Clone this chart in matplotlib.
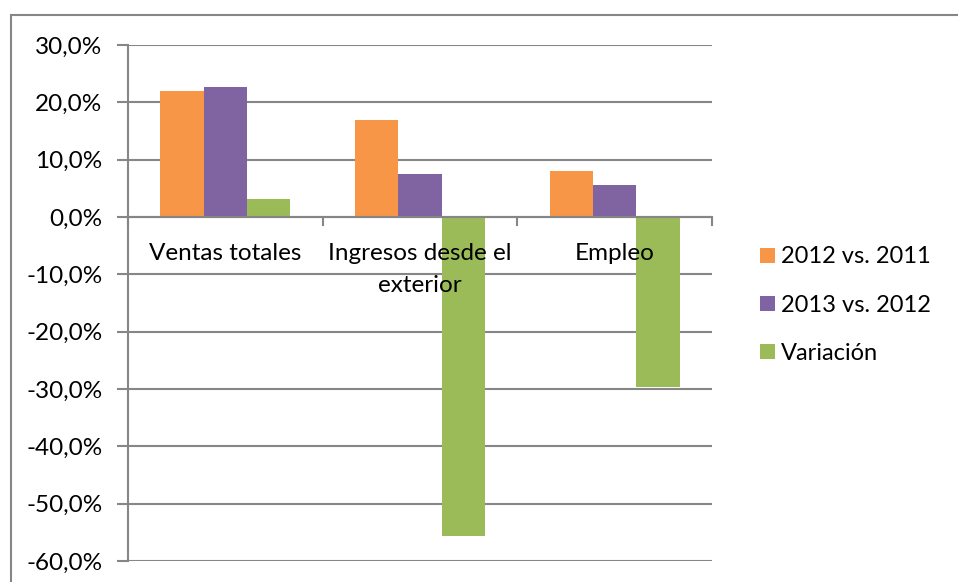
import matplotlib.pyplot as plt
import matplotlib.patches as patches
import numpy as np

categories = ["Ventas totales", "Ingresos desde el\nexterior", "Empleo"]
series_names = ["2012 vs. 2011", "2013 vs. 2012", "Variación"]
v_2012 = [21.9, 16.9, 8.1]
v_2013 = [22.6, 7.5, 5.6]
variacion = [3.1, -55.7, -29.6]
y_ticks = [30, 20, 10, 0, -10, -20, -30, -40, -50, -60]

colores = ["#F79646", "#8064A2", "#9BBB59"]
gris = "#868686"

plt.rcParams['font.family'] = ['Lato', 'DejaVu Sans']

fig = plt.figure(figsize=(9.58, 5.82), dpi=100)
ax = fig.add_axes([128 / 958, 1 - 561 / 582, 584 / 958, (561 - 45) / 582])

# marco exterior del gráfico
fig.patches.append(patches.Rectangle((11 / 958, -0.01), 1.0, 1 - 15 / 582 + 0.01,
                                     transform=fig.transFigure, fill=False,
                                     edgecolor=gris, linewidth=1.5))

x = np.arange(len(categories))
ancho = 1 / 4.5
for i, (vals, nombre) in enumerate(zip([v_2012, v_2013, variacion], series_names)):
    ax.bar(x + (i - 1) * ancho, vals, width=ancho, color=colores[i], label=nombre, zorder=3)

ax.set_xlim(-0.5, len(categories) - 0.5)
ax.set_ylim(-60, 30)
ax.set_yticks(y_ticks)
ax.set_yticklabels([f"{t:.1f}%".replace(".", ",") for t in y_ticks], fontsize=17.5)
ax.yaxis.grid(True, color=gris, linewidth=1.5, zorder=0)
ax.tick_params(axis='y', length=8, width=1.5, color=gris, pad=10.5)

for s in ["top", "right", "bottom"]:
    ax.spines[s].set_visible(False)
ax.spines["left"].set_color(gris)
ax.spines["left"].set_linewidth(1.5)

# eje de categorías sobre el cero
ax.axhline(0, color=gris, linewidth=1.5, zorder=4)
ax.set_xticks([])
for b in np.arange(len(categories) + 1) - 0.5:
    ax.plot([b, b], [0, -1.4], color=gris, linewidth=1.5, zorder=4, clip_on=False)
for xi, cat in zip(x, categories):
    for j, linea in enumerate(cat.split("\n")):
        ax.text(xi, -7.45 - j * 5.6, linea, ha="center", va="baseline",
                fontsize=17.5, zorder=5)

leg = fig.legend(loc="upper left", bbox_to_anchor=(751 / 958, 1 - 237 / 582),
                 frameon=False, fontsize=17, handlelength=0.6, handleheight=0.6,
                 handletextpad=0.28, labelspacing=1.15, borderaxespad=0)

fig.savefig("out.png", dpi=100)
